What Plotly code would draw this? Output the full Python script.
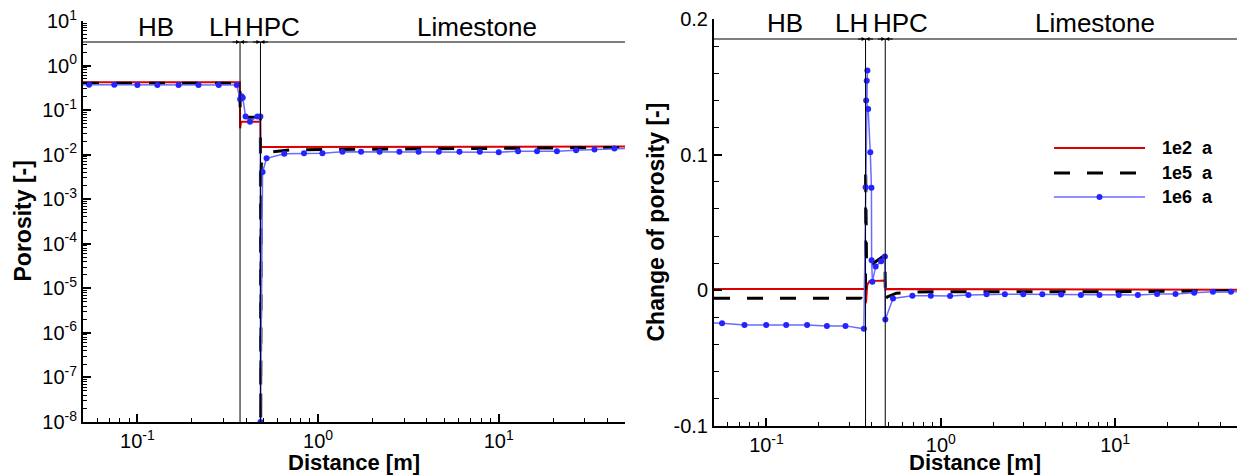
import numpy as np
import plotly.graph_objects as go
from plotly.subplots import make_subplots

# ---------------------------------------------------------------------------
# Data: distance [m] vs. porosity [-] and change of porosity [-]
# ---------------------------------------------------------------------------
boundaries = [0.37, 0.48]          # HB | LH | HPC/Limestone interfaces [m]
region_labels = ["HB", "LH", "HPC", "Limestone"]
series_names = ["1e2 a", "1e5 a", "1e6 a"]

# Porosity, 1e2 a
por_1e2_x = [0.05, 0.369, 0.3705, 0.374, 0.38, 0.479, 0.4805, 50]
por_1e2_y = [0.42, 0.42, 0.039, 0.052, 0.055, 0.055, 0.0148, 0.0152]

# Porosity, 1e5 a
por_1e5_x = [0.05, 0.3695, 0.3705, 0.373, 0.4795, 0.4805, 0.4815, 0.485,
             0.50, 0.55, 0.7, 2.0, 10.0, 50]
por_1e5_y = [0.40, 0.40, 0.10, 0.069, 0.069, 1e-8, 1e-8, 0.006,
             0.009, 0.0115, 0.0128, 0.0133, 0.014, 0.0145]

# Porosity, 1e6 a
por_1e6_x = [0.047, 0.054, 0.0745, 0.1, 0.129, 0.169, 0.218, 0.282, 0.355,
             0.3705, 0.377, 0.383, 0.397, 0.42, 0.462, 0.4795, 0.4805,
             0.493, 0.519, 0.65, 0.836, 1.057, 1.365, 1.73, 2.19, 2.82,
             3.6, 4.66, 6.06, 7.86, 10.0, 12.8, 16.3, 21.0, 26.8, 33.9,
             43.7, 55]
por_1e6_y = [0.37, 0.37, 0.37, 0.368, 0.366, 0.365, 0.365, 0.365, 0.365,
             0.175, 0.205, 0.19, 0.0716, 0.055, 0.0716, 0.072, 1e-8,
             0.0041, 0.0083, 0.0105, 0.0108, 0.0108, 0.0116, 0.0116,
             0.0116, 0.0116, 0.0116, 0.0116, 0.0116, 0.0116, 0.0113,
             0.012, 0.012, 0.012, 0.0125, 0.013, 0.0138, 0.014]

# Change of porosity, 1e2 a
dpor_1e2_x = [0.05, 0.369, 0.3705, 0.373, 0.378, 0.39, 0.479, 0.4805,
              0.49, 50]
dpor_1e2_y = [0.001, 0.001, -0.0095, -0.008, 0.004, 0.0068, 0.0072,
              0.0005, 0.001, 0.0005]

# Change of porosity, 1e5 a
dpor_1e5_x = [0.05, 0.35, 0.365, 0.3695, 0.3705, 0.372, 0.375, 0.40,
              0.43, 0.478, 0.481, 0.49, 0.556, 0.7, 1.0, 10.0, 50]
dpor_1e5_y = [-0.0058, -0.0058, -0.0083, -0.0083, 0.091, 0.05, 0.016,
              0.019, 0.022, 0.026, -0.0083, -0.005, -0.0021, -0.0012,
              -0.001, -0.001, -0.0003]

# Change of porosity, 1e6 a
dpor_1e6_x = [0.047, 0.0556, 0.0748, 0.0996, 0.1297, 0.171, 0.222, 0.284,
              0.362, 0.3705, 0.376, 0.379, 0.373, 0.383, 0.394, 0.400,
              0.401, 0.405, 0.423, 0.455, 0.478, 0.4805, 0.532, 0.687,
              0.876, 1.13, 1.44, 1.83, 2.33, 2.97, 3.82, 4.9, 6.36, 8.13,
              10.5, 13.5, 17.4, 22.2, 28.4, 36.4, 46.2, 55]
dpor_1e6_y = [-0.0240, -0.0243, -0.0255, -0.0255, -0.0255, -0.0255,
              -0.0262, -0.0262, -0.0284, 0.076, 0.1545, 0.162, 0.140,
              0.1337, 0.1018, 0.0757, 0.0222, 0.0064, 0.0175, 0.0215,
              0.025, -0.0215, -0.006, -0.004, -0.004, -0.0041, -0.0034,
              -0.0029, -0.0029, -0.0029, -0.0029, -0.0031, -0.0034,
              -0.0034, -0.0034, -0.0034, -0.0027, -0.0027, -0.0017,
              -0.001, -0.001, -0.001]

# Tick labels
x_tick_vals = [0.1, 1, 10]
x_tick_text = ["10<sup>-1</sup>", "10<sup>0</sup>", "10<sup>1</sup>"]
por_tick_exps = list(range(-8, 2))
por_tick_text = [f"10<sup>{e}</sup>" for e in por_tick_exps]
dpor_tick_vals = [-0.1, 0.0, 0.1, 0.2]
dpor_tick_text = ["-0.1", "0", "0.1", "0.2"]

# ---------------------------------------------------------------------------
# Styling
# ---------------------------------------------------------------------------
W, H = 1241, 476
FONT = "Liberation Sans, Arial, sans-serif"
RED = "#dc0000"
BLACK = "#000000"
BLUE_LINE = "#6a6aff"
BLUE_MARK = "#2424ff"
DASH = "16px,17px"

# plot areas in pixels (left, top, right, bottom)
L_BOX = (83, 21, 625, 422)
R_BOX = (714, 19, 1237, 426)


def px_x(p):
    return p / W


def px_y(p):
    return (H - p) / H


fig = make_subplots(rows=1, cols=2)
fig.update_layout(
    width=W, height=H,
    margin=dict(l=0, r=0, t=0, b=0, autoexpand=False),
    paper_bgcolor="white", plot_bgcolor="white",
    showlegend=False,
    font=dict(family=FONT, color="black", size=20),
    xaxis=dict(domain=[px_x(L_BOX[0]), px_x(L_BOX[2])]),
    yaxis=dict(domain=[px_y(L_BOX[3]), px_y(L_BOX[1])]),
    xaxis2=dict(domain=[px_x(R_BOX[0]), px_x(R_BOX[2])]),
    yaxis2=dict(domain=[px_y(R_BOX[3]), px_y(R_BOX[1])]),
)


def add_series(col, xs, ys, style):
    fig.add_trace(go.Scatter(x=xs, y=ys, **style), row=1, col=col)


red_style = dict(mode="lines", line=dict(color=RED, width=2))
black_style = dict(mode="lines", line=dict(color=BLACK, width=3, dash=DASH))
blue_style = dict(mode="lines+markers", line=dict(color=BLUE_LINE, width=1.5),
                  marker=dict(color=BLUE_MARK, size=6, symbol="circle"))

add_series(1, por_1e2_x, por_1e2_y, red_style)
add_series(1, por_1e5_x, por_1e5_y, black_style)
add_series(1, por_1e6_x, por_1e6_y, blue_style)
add_series(2, dpor_1e2_x, dpor_1e2_y, red_style)
add_series(2, dpor_1e5_x, dpor_1e5_y, black_style)
add_series(2, dpor_1e6_x, dpor_1e6_y, blue_style)

# ---------------------------------------------------------------------------
# Axes
# ---------------------------------------------------------------------------
x_minor = [m * 10.0 ** k for k in (-2, -1, 0, 1) for m in range(2, 10)
           if 0.05 <= m * 10.0 ** k <= 50]
por_minor = [m * 10.0 ** k for k in range(-8, 1) for m in range(2, 10)]
dpor_minor = [round(v, 2) for v in np.arange(-0.08, 0.2, 0.02)
              if abs(round(v * 10, 6) - round(v * 10)) > 1e-6]

common = dict(showgrid=False, zeroline=False, showline=True,
              linecolor="black", linewidth=2, mirror=False,
              automargin=False,
              ticks="inside", ticklen=8, tickwidth=2, tickcolor="black",
              tickfont=dict(family=FONT, size=20, color="black"))

xax = dict(type="log", range=[np.log10(0.05), np.log10(50)],
           tickmode="array", tickvals=x_tick_vals, ticktext=x_tick_text,
           minor=dict(tickmode="array", tickvals=x_minor, ticks="inside",
                      ticklen=4, tickwidth=1, tickcolor="black",
                      showgrid=False),
           **common)
fig.update_xaxes(**xax, row=1, col=1)
fig.update_xaxes(**xax, row=1, col=2)

fig.update_yaxes(type="log", range=[-8, 1], tickmode="array",
                 tickvals=[10.0 ** e for e in por_tick_exps],
                 ticktext=por_tick_text,
                 minor=dict(tickmode="array", tickvals=por_minor,
                            ticks="inside", ticklen=4, tickwidth=1,
                            tickcolor="black", showgrid=False),
                 **common, row=1, col=1)
fig.update_yaxes(range=[-0.1, 0.2], tickmode="array",
                 tickvals=dpor_tick_vals, ticktext=dpor_tick_text,
                 minor=dict(tickmode="array", tickvals=dpor_minor,
                            ticks="inside", ticklen=5, tickwidth=1,
                            tickcolor="black", showgrid=False),
                 **common, row=1, col=2)

# ---------------------------------------------------------------------------
# Layer boundaries, dimension lines and region labels
# ---------------------------------------------------------------------------
shapes = []
annotations = []


def layer_markup(xref, box, dim_y_px, label_y_px, label_pos):
    dim_y = px_y(dim_y_px)
    shapes.append(dict(type="line", xref="paper", yref="paper",
                       x0=px_x(box[0]), x1=px_x(box[2]), y0=dim_y, y1=dim_y,
                       line=dict(color="black", width=1.2)))
    for b in boundaries:
        shapes.append(dict(type="line", xref=xref, yref="paper",
                           x0=b, x1=b, y0=px_y(box[3]), y1=dim_y,
                           line=dict(color="black", width=1)))
        for side in (-9, 9):
            annotations.append(dict(x=np.log10(b), y=dim_y, xref=xref,
                                    yref="paper", text="", showarrow=True,
                                    ax=side, ay=0, arrowhead=2,
                                    arrowsize=0.8, arrowwidth=1,
                                    arrowcolor="black"))
    for text, lx in zip(region_labels, label_pos):
        annotations.append(dict(x=lx, y=px_y(label_y_px), xref=xref,
                                yref="paper", text=text, showarrow=False,
                                xanchor="center", yanchor="middle",
                                font=dict(family=FONT, size=26,
                                          color="black")))


layer_markup("x", L_BOX, 42, 27, [-0.896, -0.515, -0.253, 0.877])
layer_markup("x2", R_BOX, 39, 23, [-0.891, -0.511, -0.233, 0.882])

# Axis titles
title_font = dict(family=FONT, size=23, color="black")
xtitle_font = dict(family=FONT, size=22, color="black")
annotations += [
    dict(x=px_x(22), y=px_y(221.5), xref="paper", yref="paper",
         text="<b>Porosity [-]</b>", textangle=-90, showarrow=False,
         xanchor="center", yanchor="middle", font=title_font),
    dict(x=px_x(354), y=px_y(462), xref="paper", yref="paper",
         text="<b>Distance [m]</b>", showarrow=False,
         xanchor="center", yanchor="middle", font=xtitle_font),
    dict(x=px_x(655), y=px_y(222.5), xref="paper", yref="paper",
         text="<b>Change of porosity [-]</b>", textangle=-90,
         showarrow=False, xanchor="center", yanchor="middle",
         font=title_font),
    dict(x=px_x(975), y=px_y(462.5), xref="paper", yref="paper",
         text="<b>Distance [m]</b>", showarrow=False,
         xanchor="center", yanchor="middle", font=xtitle_font),
]

# Legend (drawn inside the right panel)
leg_x0, leg_x1, leg_text_x = 1054, 1145, 1160
leg_rows = [148, 173, 197]
leg_lines = [dict(color=RED, width=2),
             dict(color=BLACK, width=3, dash=DASH),
             dict(color=BLUE_LINE, width=1.5)]
for name, row_y, ln in zip(series_names, leg_rows, leg_lines):
    shapes.append(dict(type="line", xref="paper", yref="paper",
                       x0=px_x(leg_x0), x1=px_x(leg_x1),
                       y0=px_y(row_y), y1=px_y(row_y), line=ln))
    annotations.append(dict(x=px_x(leg_text_x), y=px_y(row_y), xref="paper",
                            yref="paper",
                            text="<b>" + name.replace(" ", "&nbsp;&nbsp;") + "</b>",
                            showarrow=False, xanchor="left",
                            yanchor="middle",
                            font=dict(family=FONT, size=18, color="black")))
shapes.append(dict(type="circle", xref="paper", yref="paper",
                   xsizemode="pixel", ysizemode="pixel",
                   xanchor=px_x((leg_x0 + leg_x1) / 2), yanchor=px_y(leg_rows[2]),
                   x0=-3, x1=3, y0=-3, y1=3,
                   fillcolor=BLUE_MARK, line=dict(color=BLUE_MARK, width=0)))

fig.update_layout(shapes=shapes, annotations=annotations)
fig.write_html("out.html")
